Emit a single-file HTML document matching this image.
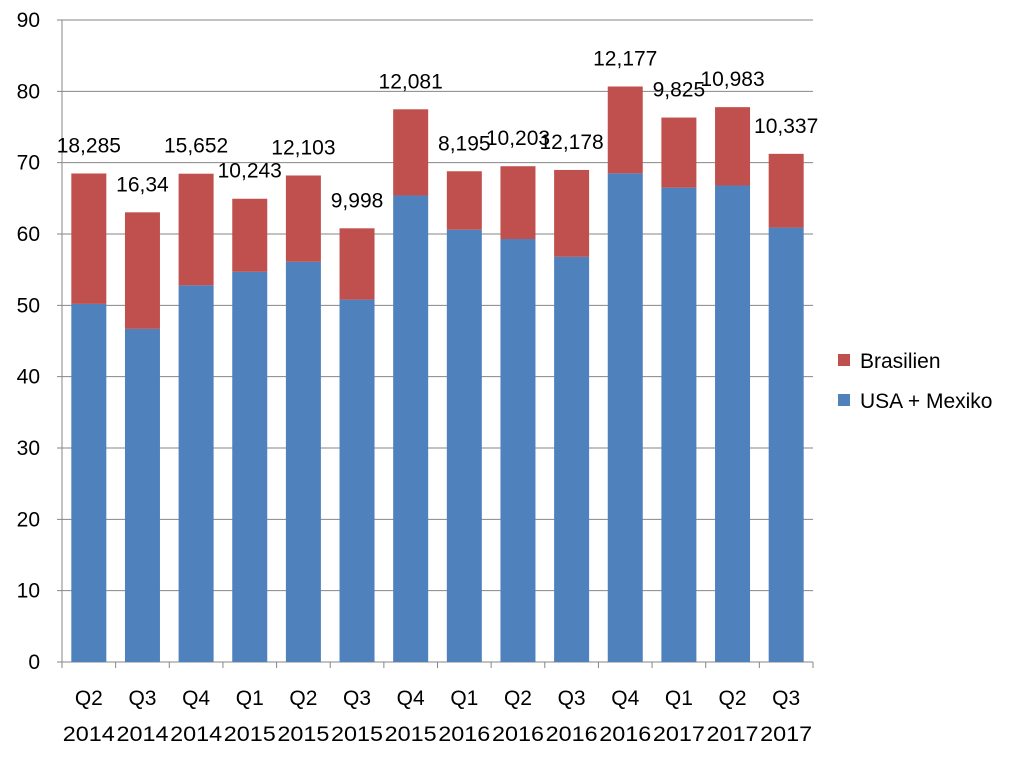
<!DOCTYPE html>
<html><head><meta charset="utf-8"><style>body{margin:0;background:#fff}svg{display:block;font-family:"Liberation Sans",sans-serif}</style></head>
<body>
<svg id="c" width="1009" height="758"></svg>
<script>
const categories=[["Q2","2014"],["Q3","2014"],["Q4","2014"],["Q1","2015"],["Q2","2015"],["Q3","2015"],["Q4","2015"],["Q1","2016"],["Q2","2016"],["Q3","2016"],["Q4","2016"],["Q1","2017"],["Q2","2017"],["Q3","2017"]];
const usaValues=[50.2,46.7,52.8,54.7,56.1,50.8,65.4,60.6,59.3,56.8,68.5,66.5,66.8,60.9];
const brasilValues=[18.285,16.34,15.652,10.243,12.103,9.998,12.081,8.195,10.203,12.178,12.177,9.825,10.983,10.337];
const brasilLabels=["18,285","16,34","15,652","10,243","12,103","9,998","12,081","8,195","10,203","12,178","12,177","9,825","10,983","10,337"];
const yTicks=[0,10,20,30,40,50,60,70,80,90];
const NS="http://www.w3.org/2000/svg",svg=document.getElementById('c');
const X0=62,X1=813,Y0=662,Y1=20,bw=(X1-X0)/categories.length,barW=35,FS=21;
const y=v=>Y0-(v/90)*(Y0-Y1);
const xc=i=>X0+bw*(i+0.5);
function mk(t,a,txt){const e=document.createElementNS(NS,t);for(const k in a)e.setAttribute(k,a[k]);if(txt!==undefined)e.textContent=txt;svg.appendChild(e);return e;}
yTicks.forEach(v=>{
 const g=mk('line',{x1:X0-5,x2:X1,y1:y(v),y2:y(v),stroke:'#868686','stroke-width':1});
 
 
 const t=mk('text',{x:40,y:y(v)+7,'text-anchor':'end','font-size':FS,fill:'#000'},v);
 
 
});
const ax=mk('line',{x1:X0,x2:X0,y1:Y1,y2:Y0+6,stroke:'#868686'});


categories.forEach((c,i)=>{
 const tk=mk('line',{x1:X0+bw*(i+1),x2:X0+bw*(i+1),y1:Y0,y2:Y0+6,stroke:'#868686'});
 
 
 const cx=xc(i);
 const b1=mk('rect',{x:cx-barW/2,y:y(usaValues[i]),width:barW,height:Y0-y(usaValues[i]),fill:'#4F81BD'});
 
 
 const tot=usaValues[i]+brasilValues[i];
 const b2=mk('rect',{x:cx-barW/2,y:y(tot),width:barW,height:y(usaValues[i])-y(tot),fill:'#C0504D'});
 
 
 const l=mk('text',{x:cx,y:y(tot)-21,'text-anchor':'middle','font-size':FS},brasilLabels[i]);
 
 
 const t1=mk('text',{x:cx,y:705,'text-anchor':'middle','font-size':FS},c[0]);
 
 
 const t2=mk('text',{x:cx,y:741,'text-anchor':'middle','font-size':FS,'textLength':52,'lengthAdjust':'spacingAndGlyphs'},c[1]);
 
 
});
const lg=[["Brasilien","#C0504D",360],["USA + Mexiko","#4F81BD",400]];
lg.forEach(d=>{
 const r=mk('rect',{x:838,y:d[2]-6,width:12,height:12,fill:d[1]});
 
 
 const t=mk('text',{x:860,y:d[2]+8,'font-size':FS},d[0]);
 
 
});
</script>
</body></html>
